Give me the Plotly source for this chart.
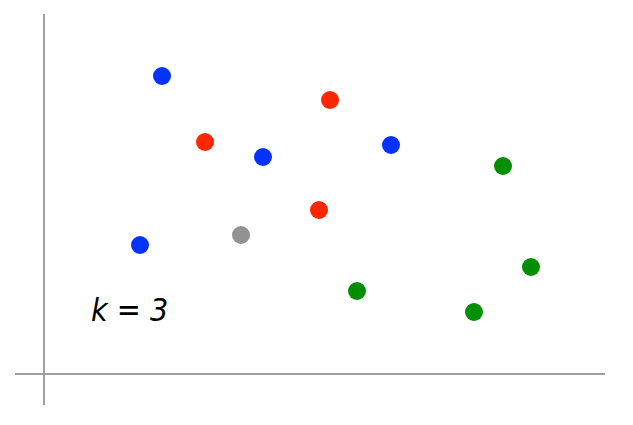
import plotly.graph_objects as go

# cluster points (x, y in chart units, origin at axis intersection)
blue_x = [118, 219, 347, 96]
blue_y = [298, 217, 229, 129]
red_x = [286, 161, 275]
red_y = [274, 232, 164]
gray_x = [197]
gray_y = [139]
green_x = [459, 487, 313, 430]
green_y = [208, 107, 83, 62]

label_text = "k = 3"
label_x = 85
label_y = 64

series = [
    (blue_x, blue_y, "#0433ff"),
    (red_x, red_y, "#ff2600"),
    (gray_x, gray_y, "#929292"),
    (green_x, green_y, "#008f00"),
]

fig = go.Figure()
for xs, ys, c in series:
    fig.add_trace(go.Scatter(x=xs, y=ys, mode="markers",
                             marker=dict(size=18, color=c, line=dict(width=0)),
                             hoverinfo="skip", showlegend=False, cliponaxis=False))

fig.add_annotation(x=label_x, y=label_y, xref="x", yref="y", text=label_text,
                   showarrow=False,
                   font=dict(family="DejaVu Sans Condensed", size=32,
                             color="black", style="italic"))

axis_common = dict(showgrid=False, showticklabels=False, ticks="", zeroline=True,
                   zerolinecolor="#a0a0a0", zerolinewidth=2, showline=False, fixedrange=True)
fig.update_xaxes(range=[-29, 561], **axis_common)
fig.update_yaxes(range=[-31, 360], **axis_common)

fig.update_layout(width=633, height=425, margin=dict(l=15, r=28, t=14, b=20),
                  paper_bgcolor="white", plot_bgcolor="white")

fig.write_html("out.html")
